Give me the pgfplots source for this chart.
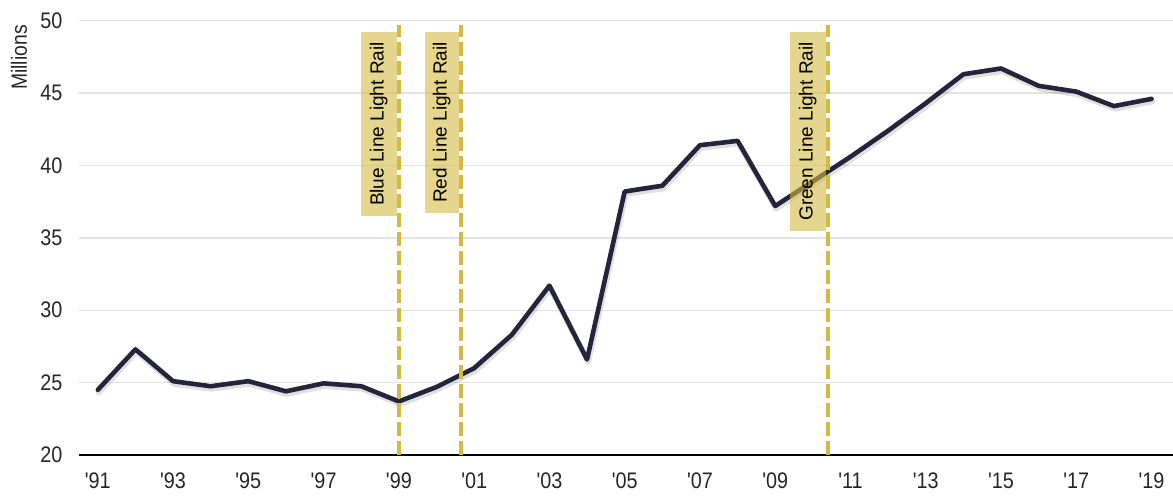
\documentclass[border=0pt]{standalone}
\usepackage{fontspec}
\setmainfont{Liberation Sans}
\newfontfamily\condfont[FakeStretch=0.88]{Liberation Sans}
\usepackage{pgfplots}
\pgfplotsset{compat=1.18}
\definecolor{navy}{HTML}{23263A}
\definecolor{gold}{HTML}{D4BA45}
\definecolor{gridc}{HTML}{E3E3E3}
\pgfplotstableread{
year value
1991 24.5
1992 27.3
1993 25.1
1994 24.75
1995 25.1
1996 24.4
1997 24.95
1998 24.75
1999 23.7
2000 24.7
2001 26.0
2002 28.3
2003 31.7
2004 26.6
2005 38.2
2006 38.6
2007 41.4
2008 41.7
2009 37.2
2010 38.9
2011 40.6
2012 42.4
2013 44.3
2014 46.3
2015 46.7
2016 45.5
2017 45.1
2018 44.1
2019 44.6
}\ridership
\begin{document}
\begin{tikzpicture}
\begin{axis}[
  scale only axis,
  width=1094pt, height=434.3pt,
  xmin=1990.5, xmax=2019.57,
  ymin=20, ymax=50,
  axis line style={draw=none},
  ytick={20,25,...,50},
  xtick={1991,1993,...,2019},
  xticklabels={'91,'93,'95,'97,'99,'01,'03,'05,'07,'09,'11,'13,'15,'17,'19},
  major tick length=0pt,
  tick style={draw=none},
  ymajorgrids,
  grid style={gridc, line width=1.3pt},
  /pgf/number format/assume math mode=true,
  ticklabel style={font=\condfont\fontsize{22.5}{22.5}\selectfont, text=black!85},
  yticklabel style={xshift=-13pt},
  xticklabel style={yshift=-14pt},
  clip=false,
]
\draw[black, line width=1.3pt] (rel axis cs:0,0) -- (rel axis cs:1,0);
\addplot[black, opacity=0.12, line width=6pt, line join=round, line cap=round, mark=none,
  shift={(1pt,-2.5pt)}, forget plot] table[x=year, y=value] {\ridership};
\addplot[navy, line width=4.6pt, line join=round, line cap=round, mark=none]
  table[x=year, y=value] {\ridership};
% label boxes
\node[rotate=90, anchor=south east, fill=gold, fill opacity=0.6, text opacity=1,
  inner xsep=10pt, minimum height=36pt, font=\fontsize{19}{19}\selectfont]
  at ([xshift=-2pt]axis cs:1999,49.22) {Blue Line Light Rail};
\node[rotate=90, anchor=south east, fill=gold, fill opacity=0.6, text opacity=1,
  inner xsep=10pt, minimum height=34pt, font=\fontsize{19}{19}\selectfont]
  at ([xshift=-2pt]axis cs:2000.65,49.22) {Red Line Light Rail};
\node[rotate=90, anchor=south east, fill=gold, fill opacity=0.6, text opacity=1,
  inner xsep=10pt, minimum height=36pt, font=\fontsize{19}{19}\selectfont]
  at ([xshift=-2pt]axis cs:2010.4,49.22) {Green Line Light Rail};
% dashed event lines
\draw[gold, line width=4.3pt, dash pattern=on 14pt off 5pt] (axis cs:1999,20) -- (axis cs:1999,49.7);
\draw[gold, line width=4.3pt, dash pattern=on 14pt off 5pt] (axis cs:2000.65,20) -- (axis cs:2000.65,49.7);
\draw[gold, line width=4.3pt, dash pattern=on 14pt off 5pt] (axis cs:2010.4,20) -- (axis cs:2010.4,49.7);
\node[rotate=90, anchor=east, inner sep=0pt, font=\condfont\fontsize{22}{22}\selectfont, text=black!85]
  at ([xshift=-60pt,yshift=-4.3pt]rel axis cs:0,1) {Millions};
\coordinate (ll) at (rel axis cs:0,0);
\coordinate (ur) at (rel axis cs:1,1);
\end{axis}
\pgfresetboundingbox
\path ([xshift=-79pt,yshift=-43pt]ll) rectangle ([yshift=20.7pt]ur);
\end{tikzpicture}
\end{document}
